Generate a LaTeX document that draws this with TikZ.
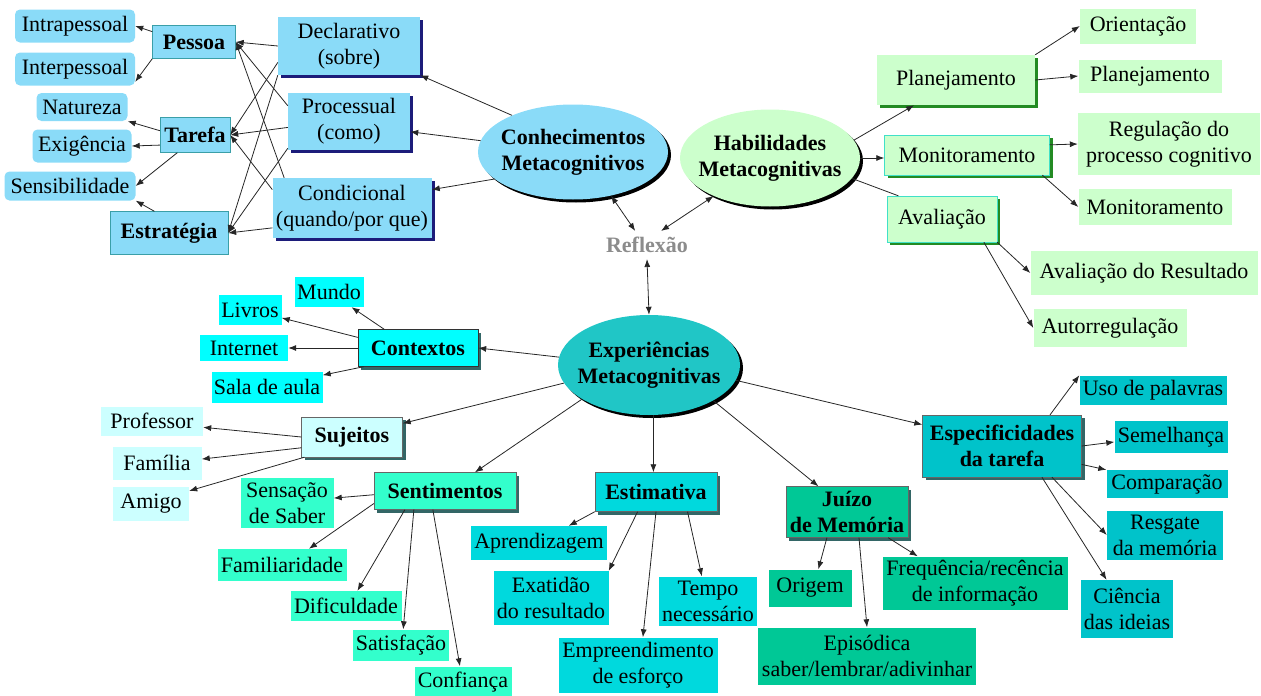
\documentclass[tikz,border=0pt]{standalone}
\usepackage{fontspec}
\setmainfont{Liberation Serif}
\usetikzlibrary{arrows.meta,shapes.geometric,shadows}

\definecolor{ckblue}{HTML}{8ADBF8}
\definecolor{cknavy}{HTML}{1C1C7A}
\definecolor{ckedge}{HTML}{3A9FA8}
\definecolor{hbgreen}{HTML}{CCFFCC}
\definecolor{hbdark}{HTML}{238B23}
\definecolor{hbedge}{HTML}{40E0C8}
\definecolor{expteal}{HTML}{20C6C6}
\definecolor{ctxcyan}{HTML}{00FFFF}
\definecolor{sujpale}{HTML}{CCFFFF}
\definecolor{sentaqua}{HTML}{33FFCC}
\definecolor{estturq}{HTML}{00D9DD}
\definecolor{juizgreen}{HTML}{00C896}
\definecolor{espteal}{HTML}{00C3CA}
\definecolor{shadowgray}{HTML}{336666}

\newcommand\mapfont{\fontsize{22}{26}\selectfont}

\tikzset{
  font=\mapfont,
  boxsize/.style 2 args={minimum width=#1pt, minimum height=#2pt},
  base/.style={align=center, inner sep=1pt},
  bigoval/.style={
    ellipse,
    align=center,
    inner xsep=-12pt,
    inner ysep=0pt,
    font=\mapfont\bfseries,
    drop shadow={shadow xshift=3pt, shadow yshift=-3pt, fill=black, opacity=1}
  },
  ckbox/.style={
    base,
    fill=ckblue,
    drop shadow={shadow xshift=3pt, shadow yshift=-3pt, fill=cknavy, opacity=1}
  },
  ckcat/.style={base, fill=ckblue, draw=ckedge, font=\mapfont\bfseries},
  ckleaf/.style={base, fill=ckblue, rounded corners=5pt},
  hbbox/.style={
    base,
    fill=hbgreen,
    drop shadow={shadow xshift=3pt, shadow yshift=-3pt, fill=hbdark, opacity=1}
  },
  hbleaf/.style={base, fill=hbgreen},
  expcat/.style={
    base,
    fill=#1,
    draw=black!60,
    font=\mapfont\bfseries,
    drop shadow={shadow xshift=3pt, shadow yshift=-3pt, fill=shadowgray, opacity=1}
  },
  expleaf/.style={base, fill=#1},
  arrow/.style={-{Latex[length=8pt,width=6pt]}, line width=0.8pt, black!85},
  twoway/.style={{Latex[length=8pt,width=6pt]}-{Latex[length=8pt,width=6pt]}, line width=0.8pt, black!85},
  link/.style={line width=0.8pt, black!85}
}

\begin{document}
\begin{tikzpicture}[x=1pt, y=-1pt]

\useasboundingbox (0,0) rectangle (1261,696);

% Conhecimentos metacognitivos
\node[bigoval, fill=ckblue, boxsize={190}{95}] (ck) at (573,152) {Conhecimentos\\Metacognitivos};
\node[ckbox, boxsize={142}{58}] (dec) at (349,46) {Declarativo\\(sobre)};
\node[ckbox, boxsize={122}{57}] (proc) at (349,121) {Processual\\(como)};
\node[ckbox, boxsize={159}{60}] (cond) at (352,208) {Condicional\\(quando/por que)};
\node[ckcat, boxsize={83}{33}] (pes) at (194,42) {Pessoa};
\node[ckcat, boxsize={70}{35}] (tar) at (195,135) {Tarefa};
\node[ckcat, boxsize={118}{43}] (estr) at (169,233) {Estratégia};
\node[ckleaf, boxsize={120}{33}] (intra) at (75,26) {Intrapessoal};
\node[ckleaf, boxsize={120}{33}] (inter) at (75,69) {Interpessoal};
\node[ckleaf, boxsize={91}{28}] (nat) at (82,107) {Natureza};
\node[ckleaf, boxsize={99}{33}] (exig) at (82,146) {Exigência};
\node[ckleaf, boxsize={131}{29}] (sens) at (70,186) {Sensibilidade};

\node[font=\mapfont\bfseries, text=black!45, inner sep=6pt] (ref) at (647,245) {Reflexão};

% Habilidades metacognitivas
\node[bigoval, fill=hbgreen, boxsize={180}{97}] (hb) at (770,158) {Habilidades\\Metacognitivas};
\node[hbbox, boxsize={158}{50}] (plan) at (956,80) {Planejamento};
\node[hbbox, draw=hbedge, boxsize={165}{40}] (mon) at (967,155) {Monitoramento};
\node[hbbox, draw=hbedge, boxsize={110}{46}] (ava) at (942,219) {Avaliação};
\node[hbleaf, boxsize={116}{35}] (orient) at (1138,26) {Orientação};
\node[hbleaf, boxsize={143}{33}] (plan2) at (1150,76) {Planejamento};
\node[hbleaf, boxsize={182}{62}] (regul) at (1169,144) {Regulação do\\processo cognitivo};
\node[hbleaf, boxsize={153}{36}] (mon2) at (1155,207) {Monitoramento};
\node[hbleaf, boxsize={227}{44}] (avres) at (1144,273) {Avaliação do Resultado};
\node[hbleaf, boxsize={153}{38}] (autor) at (1110,328) {Autorregulação};

% Experiencias metacognitivas
\node[bigoval, fill=expteal, boxsize={182}{100}] (exp) at (649,365) {Experiências\\Metacognitivas};

\node[expcat=ctxcyan, draw=black!80, boxsize={120}{37}] (ctx) at (418,348) {Contextos};
\node[expleaf=ctxcyan, boxsize={69}{30}] (mundo) at (329,292) {Mundo};
\node[expleaf=ctxcyan, boxsize={63}{30}] (livros) at (250,310) {Livros};
\node[expleaf=ctxcyan, boxsize={88}{26}] (net) at (244,348) {Internet};
\node[expleaf=ctxcyan, boxsize={111}{31}] (sala) at (267,387) {Sala de aula};

\node[expcat=sujpale, boxsize={101}{40}] (suj) at (352,437) {Sujeitos};
\node[expleaf=sujpale, boxsize={102}{29}] (prof) at (152,421) {Professor};
\node[expleaf=sujpale, boxsize={89}{33}] (fam) at (157,463) {Família};
\node[expleaf=sujpale, boxsize={76}{34}] (amigo) at (151,504) {Amigo};

\node[expcat=sentaqua, boxsize={142}{37}] (sent) at (445,491) {Sentimentos};
\node[expleaf=sentaqua, boxsize={93}{50}] (sensac) at (287,503) {Sensação\\de Saber};
\node[expleaf=sentaqua, boxsize={129}{32}] (famil) at (282,565) {Familiaridade};
\node[expleaf=sentaqua, boxsize={111}{30}] (dific) at (346,606) {Dificuldade};
\node[expleaf=sentaqua, boxsize={96}{31}] (satis) at (401,645) {Satisfação};
\node[expleaf=sentaqua, boxsize={97}{31}] (confi) at (463,682) {Confiança};

\node[expcat=estturq, boxsize={122}{39}] (estim) at (656,492) {Estimativa};
\node[expleaf=estturq, boxsize={136}{34}] (aprend) at (539,543) {Aprendizagem};
\node[expleaf=estturq, boxsize={115}{54}] (exat) at (551,598) {Exatidão\\do resultado};
\node[expleaf=estturq, boxsize={98}{49}] (tempo) at (708,601) {Tempo\\necessário};
\node[expleaf=estturq, boxsize={159}{55}] (empre) at (638,665) {Empreendimento\\de esforço};

\node[expcat=juizgreen, boxsize={122}{51}] (juizo) at (847,512) {Juízo\\de Memória};
\node[expleaf=juizgreen, boxsize={83}{37}] (origem) at (810,588) {Origem};
\node[expleaf=juizgreen, boxsize={218}{57}] (episod) at (867,656) {Episódica\\saber/lembrar/adivinhar};
\node[expleaf=juizgreen, boxsize={185}{53}] (freq) at (975,583) {Frequência/recência\\de informação};

\node[expcat=espteal, boxsize={159}{62}] (espec) at (1002,446) {Especificidades\\da tarefa};
\node[expleaf=espteal, boxsize={147}{29}] (uso) at (1153,390) {Uso de palavras};
\node[expleaf=espteal, boxsize={113}{32}] (semel) at (1171,437) {Semelhança};
\node[expleaf=espteal, boxsize={121}{28}] (compar) at (1167,484) {Comparação};
\node[expleaf=espteal, boxsize={116}{49}] (resg) at (1165,535) {Resgate\\da memória};
\node[expleaf=espteal, boxsize={92}{58}] (cienc) at (1127,609) {Ciência\\das ideias};

% Connections
\draw[arrow] (ck.149) -- (dec.south east);
\draw[arrow] (ck.173) -- (proc.-10);
\draw[arrow] (ck.199) -- (cond.13);

\draw[arrow] (dec.west) -- (pes.east);
\draw[arrow] (dec.193) -- (tar.east);
\draw[arrow] (dec.south west) -- (estr.east);
\draw[arrow] (proc.166) -- (pes.east);
\draw[arrow] (proc.186) -- (tar.east);
\draw[arrow] (proc.204) -- (estr.east);
\draw[arrow] (cond.156) -- (pes.east);
\draw[arrow] (cond.167) -- (tar.east);
\draw[arrow] (cond.194) -- (estr.east);

\draw[arrow] (pes.166) -- (intra.east);
\draw[arrow] (pes.south west) -- (inter.-12);
\draw[arrow] (tar.173) -- (nat.south east);
\draw[arrow] (tar.196) -- (exig.east);
\draw[arrow] (tar.225) -- (sens.east);
\draw[arrow] (estr.124) -- (sens.south east);

\draw[twoway] (ck.-49) -- (ref.130);
\draw[twoway] (hb.214) -- (ref.45);
\draw[twoway] (ref.south) -- (exp.north);

\draw[arrow] (hb.12) -- (plan.211);
\draw[arrow] (hb.east) -- (hb.east -| mon.west);
\draw[link] (hb.-14) -- (ava.152);
\draw[arrow] (plan.north east) -- (orient.west);
\draw[arrow] (plan.east) -- (plan2.west);
\draw[arrow] (mon.7) -- (regul.west);
\draw[arrow] (mon.-15) -- (mon2.west);
\draw[arrow] (ava.south east) -- (avres.west);
\draw[arrow] (ava.-29) -- (autor.west);

\draw[arrow] (exp.175) -- (ctx.east);
\draw[arrow] (exp.192) -- (suj.15);
\draw[arrow] (exp.207) -- (sent.32);
\draw[arrow] (exp.-85) -- (exp.-85 |- estim.north);
\draw[arrow] (exp.-29) -- (juizo.138);
\draw[arrow] (exp.-10) -- (espec.165);

\draw[arrow] (ctx.151) -- (mundo.-34);
\draw[arrow] (ctx.170) -- (livros.-14);
\draw[arrow] (ctx.west) -- (net.east);
\draw[arrow] (ctx.199) -- (sala.12);

\draw[arrow] (suj.180) -- (prof.-7);
\draw[arrow] (suj.192) -- (fam.5);
\draw[arrow] (suj.203) -- (amigo.19);

\draw[arrow] (sent.183) -- (sensac.6);
\draw[arrow] (sent.190) -- (famil.31);
\draw[arrow] (sent.205) -- (dific.53);
\draw[arrow] (sent.211) -- (satis.82);
\draw[arrow] (sent.237) -- (confi.101);

\draw[arrow] (estim.south west) -- (aprend.30);
\draw[arrow] (estim.227) -- (exat.north east);
\draw[arrow] (estim.south) -- (empre.80);
\draw[arrow] (estim.-32) -- (tempo.104);

\draw[arrow] (juizo.232) -- (origem.66);
\draw[arrow] (juizo.-65) -- (episod.north);
\draw[arrow] (juizo.-32) -- (freq.155);

\draw[arrow] (espec.33) -- (uso.north west);
\draw[arrow] (espec.east) -- (semel.185);
\draw[arrow] (espec.-13) -- (compar.north west);
\draw[arrow] (espec.-32) -- (resg.west);
\draw[arrow] (espec.-38) -- (cienc.125);

\end{tikzpicture}
\end{document}
